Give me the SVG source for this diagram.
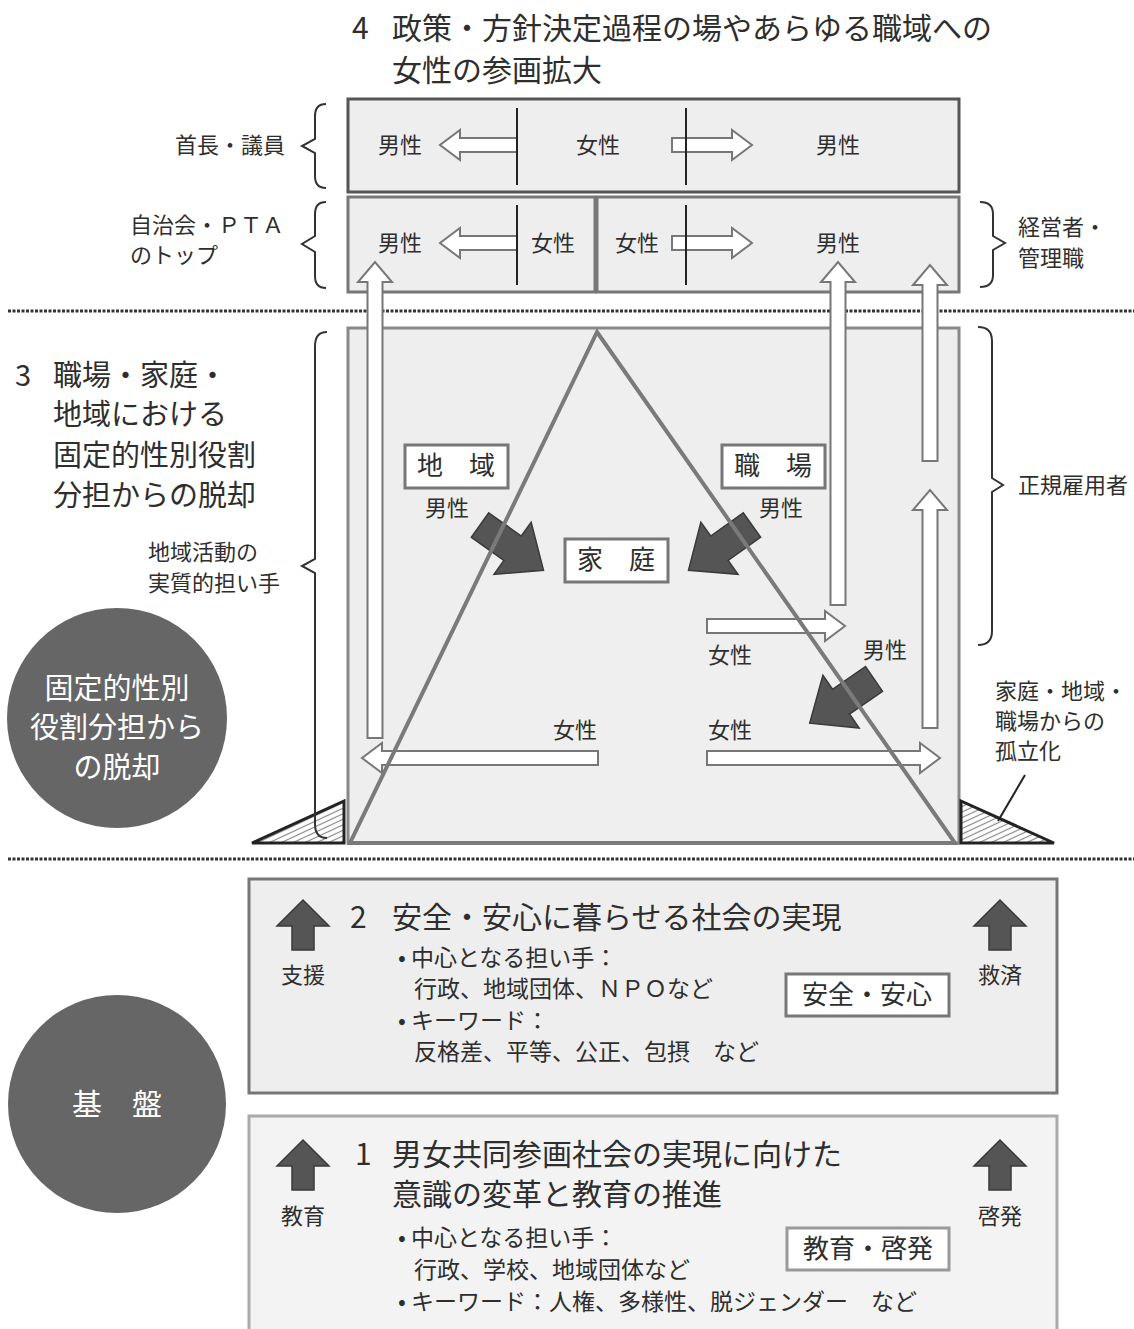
<svg xmlns="http://www.w3.org/2000/svg" width="1134" height="1329" viewBox="0 0 1134 1329">
<style>
.t{font-family:"Noto Sans CJK JP","Noto Sans",sans-serif;fill:#2e2e2e}
.s22{font-size:22px}
.s23{font-size:23px}
.s26{font-size:26px}
.s29{font-size:30px}
.s28{font-size:29px}
.w{fill:#fff}
.m{text-anchor:middle}
.wa{fill:#fff;stroke:#777;stroke-width:2;stroke-linejoin:miter}
.da{fill:#555;stroke:#3a3a3a;stroke-width:1.5}
.br{fill:none;stroke:#333;stroke-width:2}
.div{stroke:#222;stroke-width:2}
.lbl{fill:#fff;stroke:#777;stroke-width:3}
.dot{stroke:#333;stroke-width:3;stroke-dasharray:3 1.5}
</style>
<defs>
<pattern id="hatch" patternUnits="userSpaceOnUse" width="5" height="5" patternTransform="rotate(-25)">
<rect width="5" height="5" fill="#fff"/>
<line x1="0" y1="2.5" x2="5" y2="2.5" stroke="#8a8a8a" stroke-width="1.2"/>
</pattern>
<path id="blk" d="M0,-15 L40,-15 L40,-32 L78,0 L40,32 L40,15 L0,15 Z"/>
</defs>
<rect width="1134" height="1329" fill="#fff"/>

<g id="title4">
<text class="t s29" x="352" y="39">4</text>
<text class="t s29" x="392" y="39">政策・方針決定過程の場やあらゆる職域への</text>
<text class="t s29" x="392" y="81">女性の参画拡大</text>
</g>

<g id="top-row1">
<rect x="348" y="99" width="611" height="93" fill="#eee" stroke="#555" stroke-width="3"/>
</g>
<g id="top-row2">
<rect x="348" y="197" width="247" height="95" fill="#eee" stroke="#777" stroke-width="3"/>
<rect x="597" y="197" width="362" height="95" fill="#eee" stroke="#777" stroke-width="3"/>
</g>

<g id="middle-box">
<rect x="348" y="328" width="611" height="515" fill="#eee" stroke="#888" stroke-width="3"/>
<polygon points="597,332 350,843 955,843" fill="#efefef"/>
</g>

<g id="dotted-lines">
<line class="dot" x1="8" y1="311" x2="1134" y2="311"/>
<line class="dot" x1="8" y1="859" x2="1134" y2="859"/>
</g>

<g id="hatched">
<polygon points="252,843 344,801 344,843" fill="url(#hatch)" stroke="#222" stroke-width="3" stroke-linejoin="miter"/>
<polygon points="961,801 1054,843 961,843" fill="url(#hatch)" stroke="#222" stroke-width="3" stroke-linejoin="miter"/>
</g>

<g id="connectors">
<path class="wa" d="M367.5,738 L367.5,282 L358,282 L375,262 L392,282 L382.5,282 L382.5,738 Z"/>
<path class="wa" d="M830.5,605 L830.5,282 L821,282 L838,262 L855,282 L845.5,282 L845.5,605 Z"/>
<path class="wa" d="M922.5,728 L922.5,510 L913,510 L930,490 L947,510 L937.5,510 L937.5,728 Z"/>
<path class="wa" d="M922.5,461 L922.5,285 L913,285 L930,265 L947,285 L937.5,285 L937.5,461 Z"/>
<path class="wa" d="M598,751 L382,751 L382,743 L362,758 L382,773 L382,765 L598,765 Z"/>
<path class="wa" d="M707,751 L920,751 L920,743 L940,758 L920,773 L920,765 L707,765 Z"/>
<path class="wa" d="M707,619 L825,619 L825,611 L845,626 L825,641 L825,633 L707,633 Z"/>
<path class="wa" d="M517,138 L460,138 L460,130 L440,145 L460,160 L460,152 L517,152 Z"/>
<path class="wa" d="M672,138 L732,138 L732,130 L752,145 L732,160 L732,152 L672,152 Z"/>
<path class="wa" d="M517,236 L460,236 L460,228 L440,243 L460,258 L460,250 L517,250 Z"/>
<path class="wa" d="M672,236 L732,236 L732,228 L752,243 L732,258 L732,250 L672,250 Z"/>
<line class="div" x1="517" y1="108" x2="517" y2="185"/>
<line class="div" x1="686" y1="108" x2="686" y2="185"/>
<line class="div" x1="517" y1="205" x2="517" y2="285"/>
<line class="div" x1="686" y1="205" x2="686" y2="285"/>
<use href="#blk" class="da" transform="translate(480,525) rotate(35.5)"/>
<use href="#blk" class="da" transform="translate(752,525) rotate(144.5)"/>
<use href="#blk" class="da" transform="translate(874,679) rotate(145.5)"/>
<polygon points="597,332 350,843 955,843" fill="none" stroke="#7a7a7a" stroke-width="4" stroke-linejoin="miter"/>
<line x1="1025" y1="775" x2="998" y2="821" stroke="#222" stroke-width="2"/>
</g>

<g id="top-labels">
<text class="t s22 m" x="400" y="153">男性</text>
<text class="t s22 m" x="598" y="153">女性</text>
<text class="t s22 m" x="838" y="153">男性</text>
<text class="t s22 m" x="400" y="251">男性</text>
<text class="t s22 m" x="553" y="251">女性</text>
<text class="t s22 m" x="637" y="251">女性</text>
<text class="t s22 m" x="838" y="251">男性</text>
</g>

<g id="braces">
<path class="br" d="M326,104 Q315,104 315,116 L315,139 L302,146 L315,153 L315,176 Q315,188 326,188"/>
<path class="br" d="M326,202 Q315,202 315,214 L315,236 L302,244 L315,252 L315,276 Q315,288 326,288"/>
<path class="br" d="M327,332 Q315,332 315,346 L315,559 L302,566 L315,573 L315,824 Q315,838 327,838"/>
<path class="br" d="M980,202 Q993,202 993,214 L993,236 L1005,243 L993,250 L993,275 Q993,287 980,287"/>
<path class="br" d="M978,327 Q992,327 992,341 L992,478 L1003,485 L992,492 L992,631 Q992,645 978,645"/>
</g>

<g id="side-labels">
<text class="t s22" x="285" y="153" text-anchor="end">首長・議員</text>
<text class="t s22" x="130" y="233">自治会・ＰＴＡ</text>
<text class="t s22" x="130" y="263">のトップ</text>
<text class="t s22" x="1018" y="235">経営者・</text>
<text class="t s22" x="1018" y="266">管理職</text>
<text class="t s22" x="1018" y="493">正規雇用者</text>
<text class="t s22" x="148" y="560">地域活動の</text>
<text class="t s22" x="148" y="591">実質的担い手</text>
<text class="t s22" x="995" y="699">家庭・地域・</text>
<text class="t s22" x="995" y="729">職場からの</text>
<text class="t s22" x="995" y="759">孤立化</text>
</g>

<g id="title3">
<text class="t s28" x="15" y="386">3</text>
<text class="t s28" x="53" y="386">職場・家庭・</text>
<text class="t s28" x="53" y="425">地域における</text>
<text class="t s28" x="53" y="466">固定的性別役割</text>
<text class="t s28" x="53" y="506">分担からの脱却</text>
</g>

<g id="circle-kotei">
<circle cx="117" cy="718" r="110" fill="#666"/>
<text class="t s28 m w" x="117" y="699">固定的性別</text>
<text class="t s28 m w" x="117" y="738">役割分担から</text>
<text class="t s28 m w" x="117" y="778">の脱却</text>
</g>

<g id="node-chiiki">
<rect class="lbl" x="405" y="445" width="103" height="43"/>
<text class="t s26 m" x="456" y="475">地　域</text>
<text class="t s22 m" x="447" y="516">男性</text>
</g>
<g id="node-shokuba">
<rect class="lbl" x="722" y="445" width="103" height="43"/>
<text class="t s26 m" x="773" y="475">職　場</text>
<text class="t s22 m" x="781" y="516">男性</text>
</g>
<g id="node-katei">
<rect class="lbl" x="565" y="539" width="103" height="43"/>
<text class="t s26 m" x="616" y="569">家　庭</text>
</g>
<g id="inner-labels">
<text class="t s22 m" x="885" y="658">男性</text>
<text class="t s22 m" x="730" y="663">女性</text>
<text class="t s22 m" x="575" y="738">女性</text>
<text class="t s22 m" x="730" y="738">女性</text>
</g>

<g id="section2">
<rect x="249" y="879" width="808" height="214" fill="#eee" stroke="#777" stroke-width="3"/>
<path class="da" d="M292,950 L292,926 L277,926 L303,900 L329,926 L314,926 L314,950 Z"/>
<path class="da" d="M989,950 L989,926 L974,926 L1000,900 L1026,926 L1011,926 L1011,950 Z"/>
<text class="t s22 m" x="303" y="983">支援</text>
<text class="t s22 m" x="1000" y="983">救済</text>
<text class="t s29" x="350" y="928">2</text>
<text class="t s29" x="392" y="928">安全・安心に暮らせる社会の実現</text>
<text class="t s23" x="398" y="966">• 中心となる担い手：</text>
<text class="t s23" x="414" y="997">行政、地域団体、ＮＰＯなど</text>
<text class="t s23" x="398" y="1029">• キーワード：</text>
<text class="t s23" x="414" y="1060">反格差、平等、公正、包摂　など</text>
<rect class="lbl" x="786" y="974" width="163" height="42"/>
<text class="t s26 m" x="867" y="1004">安全・安心</text>
</g>

<g id="section1">
<rect x="249" y="1116" width="808" height="230" fill="#f3f3f3" stroke="#aaa" stroke-width="3"/>
<path class="da" d="M292,1190 L292,1166 L277,1166 L303,1140 L329,1166 L314,1166 L314,1190 Z"/>
<path class="da" d="M989,1190 L989,1166 L974,1166 L1000,1140 L1026,1166 L1011,1166 L1011,1190 Z"/>
<text class="t s22 m" x="303" y="1224">教育</text>
<text class="t s22 m" x="1000" y="1224">啓発</text>
<text class="t s29" x="355" y="1165">1</text>
<text class="t s29" x="392" y="1165">男女共同参画社会の実現に向けた</text>
<text class="t s29" x="392" y="1205">意識の変革と教育の推進</text>
<text class="t s23" x="398" y="1246">• 中心となる担い手：</text>
<text class="t s23" x="414" y="1278">行政、学校、地域団体など</text>
<text class="t s23" x="398" y="1310">• キーワード：人権、多様性、脱ジェンダー　など</text>
<rect class="lbl" x="787" y="1228" width="162" height="42" style="stroke:#999"/>
<text class="t s26 m" x="868" y="1258">教育・啓発</text>
</g>

<g id="circle-kiban">
<circle cx="117" cy="1104" r="109" fill="#666"/>
<text class="t m w" x="117" y="1115" style="font-size:30px">基　盤</text>
</g>
</svg>
